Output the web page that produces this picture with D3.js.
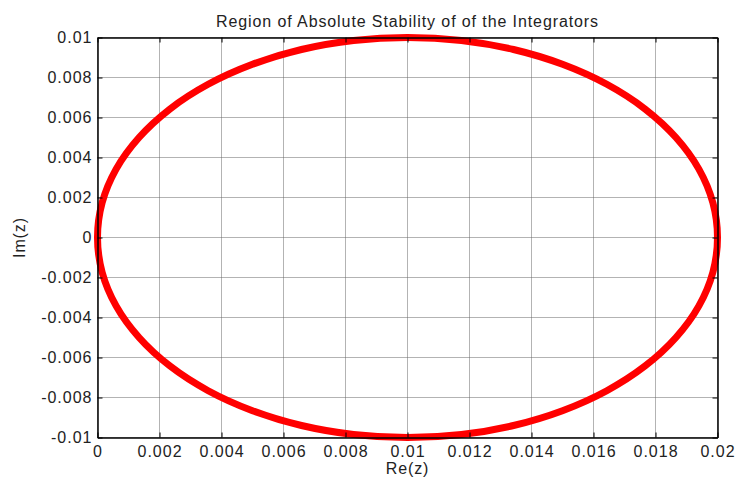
<!DOCTYPE html>
<html>
<head>
<meta charset="utf-8">
<script src="https://cdn.jsdelivr.net/npm/d3@7"></script>
<style>
  body { margin: 0; background: #fff; }
  text { font-family: "Liberation Sans", Arial, sans-serif; fill: #222; }
</style>
</head>
<body>
<div id="chart"></div>
<script>
var re = [0.0200, 0.01985, 0.01940, 0.01866, 0.01766, 0.01643, 0.01500, 0.01342, 0.01174,
          0.01000, 0.00826, 0.00658, 0.00500, 0.00357, 0.00234, 0.00134, 0.00060, 0.00015,
          0.00000, 0.00015, 0.00060, 0.00134, 0.00234, 0.00357, 0.00500, 0.00658, 0.00826,
          0.01000, 0.01174, 0.01342, 0.01500, 0.01643, 0.01766, 0.01866, 0.01940, 0.01985];
var im = [0, 0.00174, 0.00342, 0.00500, 0.00643, 0.00766, 0.00866, 0.00940, 0.00985,
          0.01000, 0.00985, 0.00940, 0.00866, 0.00766, 0.00643, 0.00500, 0.00342, 0.00174,
          0, -0.00174, -0.00342, -0.00500, -0.00643, -0.00766, -0.00866, -0.00940, -0.00985,
          -0.01000, -0.00985, -0.00940, -0.00866, -0.00766, -0.00643, -0.00500, -0.00342, -0.00174];
var xTicks = [0, 0.002, 0.004, 0.006, 0.008, 0.01, 0.012, 0.014, 0.016, 0.018, 0.02];
var yTicks = [-0.01, -0.008, -0.006, -0.004, -0.002, 0, 0.002, 0.004, 0.006, 0.008, 0.01];

var width = 735, height = 477;
var margin = {top: 37.5, right: 17.5, bottom: 39.5, left: 97.5};

var svg = d3.select("#chart").append("svg")
    .attr("width", width)
    .attr("height", height);

var x = d3.scaleLinear().domain([0, 0.02]).range([margin.left, width - margin.right]);
var y = d3.scaleLinear().domain([-0.01, 0.01]).range([height - margin.bottom, margin.top]);

// matlab style labels, plain hyphen for minus
var fmt = function(d) { return String(+d.toFixed(4)); };

// grid
svg.append("g")
    .selectAll("line")
    .data(xTicks)
    .enter().append("line")
    .attr("x1", function(d) { return x(d); })
    .attr("x2", function(d) { return x(d); })
    .attr("y1", y(-0.01))
    .attr("y2", y(0.01))
    .attr("stroke", "#666")
    .attr("stroke-width", 1)
    .attr("stroke-dasharray", "1,1");

svg.append("g")
    .selectAll("line")
    .data(yTicks)
    .enter().append("line")
    .attr("x1", x(0))
    .attr("x2", x(0.02))
    .attr("y1", function(d) { return y(d); })
    .attr("y2", function(d) { return y(d); })
    .attr("stroke", "#666")
    .attr("stroke-width", 1)
    .attr("stroke-dasharray", "1,1");

// curve
var pts = re.map(function(r, i) { return [r, im[i]]; });
var line = d3.line()
    .x(function(d) { return x(d[0]); })
    .y(function(d) { return y(d[1]); })
    .curve(d3.curveCatmullRomClosed);

svg.append("path")
    .datum(pts)
    .attr("d", line)
    .attr("fill", "none")
    .attr("stroke", "#ff0000")
    .attr("stroke-width", 7);

// axes, ticks pointing inward, box
svg.append("g")
    .attr("transform", "translate(0," + y(-0.01) + ")")
    .call(d3.axisBottom(x).tickValues(xTicks).tickFormat(fmt).tickSizeInner(-5).tickSizeOuter(0).tickPadding(8));
svg.append("g")
    .attr("transform", "translate(0," + y(0.01) + ")")
    .call(d3.axisTop(x).tickValues(xTicks).tickFormat("").tickSizeInner(-5).tickSizeOuter(0));
svg.append("g")
    .attr("transform", "translate(" + x(0) + ",0)")
    .call(d3.axisLeft(y).tickValues(yTicks).tickFormat(fmt).tickSizeInner(-5).tickSizeOuter(0).tickPadding(5));
svg.append("g")
    .attr("transform", "translate(" + x(0.02) + ",0)")
    .call(d3.axisRight(y).tickValues(yTicks).tickFormat("").tickSizeInner(-5).tickSizeOuter(0));

svg.selectAll(".domain").attr("stroke", "#000").attr("stroke-width", 1.5);
svg.selectAll(".tick line").attr("stroke", "#000");
svg.selectAll(".tick text")
    .attr("font-size", 16)
    .attr("letter-spacing", 1)
    .attr("font-family", "Liberation Sans, Arial, sans-serif")
    .attr("fill", "#222");

// titles
svg.append("text")
    .attr("x", x(0.01))
    .attr("y", 27)
    .attr("text-anchor", "middle")
    .attr("font-size", 16)
    .attr("letter-spacing", 0.9)
    .text("Region of Absolute Stability of of the Integrators");

svg.append("text")
    .attr("x", x(0.01))
    .attr("y", 474)
    .attr("text-anchor", "middle")
    .attr("font-size", 16)
    .attr("letter-spacing", 0.9)
    .text("Re(z)");

svg.append("text")
    .attr("transform", "translate(25," + y(0) + ") rotate(-90)")
    .attr("text-anchor", "middle")
    .attr("font-size", 16)
    .attr("letter-spacing", 0.9)
    .text("Im(z)");
</script>
</body>
</html>
